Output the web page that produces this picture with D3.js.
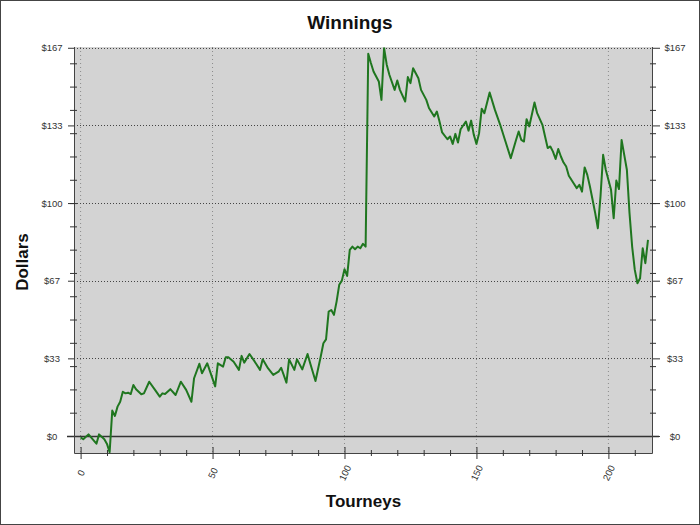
<!DOCTYPE html>
<html>
<head>
<meta charset="utf-8">
<script src="https://cdn.jsdelivr.net/npm/d3@7"></script>
<style>
  body { margin: 0; background: #fff; }
  svg { display: block; }
  .axis text { font-family: "Liberation Sans", Arial, sans-serif; font-size: 9.5px; fill: #333; }
  .axis path { display: none; }
  .axis line { stroke: #333; }
</style>
</head>
<body>
<script>
// set the dimensions and margins of the graph
var margin = {top: 47, right: 47, bottom: 72, left: 74},
    width = 700 - margin.left - margin.right,
    height = 525 - margin.top - margin.bottom;

// tourney number / cumulative winnings
var tourneys = [0, 1, 3, 6, 7, 9, 10, 11, 12, 13, 14, 15, 16, 17, 18, 19, 20, 21, 23, 24,
  26, 28, 30, 31, 32, 34, 36, 38, 40, 42, 43, 45, 46, 48, 51, 52, 54, 55, 56, 58,
  60, 61, 62, 64, 66, 68, 69, 71, 73, 75, 76, 78, 79, 81, 82, 84, 86, 87, 89, 91,
  92, 93, 94, 95, 96, 97, 98, 99, 100, 101, 102, 103, 104, 105, 106, 107, 108, 109, 110, 111,
  113, 114, 115, 116, 117, 119, 120, 121, 123, 124, 125, 126, 128, 129, 131, 132, 134, 135, 136, 137,
  139, 140, 141, 142, 143, 144, 146, 147, 148, 149, 150, 151, 152, 153, 155, 157, 159, 161, 163, 165,
  166, 167, 168, 169, 170, 172, 173, 175, 176, 177, 178, 179, 180, 181, 182, 183, 184, 185, 187, 188,
  189, 190, 191, 192, 193, 194, 195, 196, 197, 198, 199, 201, 202, 203, 204, 205, 206, 207, 208, 209,
  210, 211, 212, 213, 214, 215];
var winnings = [-0.6, -1.4, 0.7, -3.3, 0.7, -1.4, -3.4, -7.0, 10.9, 8.6, 12.6, 14.7, 19.0, 18.3, 18.6, 18.0, 21.9, 20.1, 17.9, 18.3,
  23.3, 20.1, 16.9, 18.3, 18.0, 20.1, 17.6, 23.3, 19.8, 14.7, 24.8, 31.0, 26.9, 31.2, 21.3, 31.2, 29.8, 33.8, 33.8, 31.9,
  28.4, 34.4, 31.5, 35.2, 31.9, 28.4, 32.9, 29.1, 26.2, 27.6, 29.3, 22.9, 32.9, 28.4, 32.9, 28.6, 35.2, 31.2, 23.6, 34.1,
  39.8, 41.5, 53.4, 54.1, 52.0, 57.7, 64.9, 66.7, 71.6, 68.7, 79.9, 81.3, 80.2, 81.3, 80.6, 82.5, 81.3, 164.1, 160.1, 156.5,
  152.2, 144.3, 166.5, 159.4, 155.1, 148.6, 152.6, 148.6, 143.6, 154.1, 151.5, 157.9, 153.6, 148.6, 144.3, 140.8, 137.2, 139.3, 135.0, 130.3,
  127.4, 128.6, 125.4, 129.7, 126.0, 131.7, 135.0, 131.1, 135.4, 129.3, 125.4, 130.0, 140.5, 138.6, 147.5, 140.0, 133.6, 126.4, 119.3, 127.1,
  130.7, 127.1, 126.4, 136.0, 132.9, 143.2, 138.6, 133.6, 128.6, 123.6, 124.3, 122.1, 118.9, 123.2, 120.0, 117.4, 115.7, 111.7, 108.2, 106.4,
  107.8, 104.9, 115.3, 112.1, 107.1, 101.4, 95.7, 89.2, 102.8, 120.7, 114.3, 105.7, 93.5, 109.7, 106.0, 127.1, 120.7, 114.3, 95.7, 81.3,
  71.3, 65.6, 67.7, 80.6, 74.2, 84.2];

// axis ticks
var yMajor = [0, 100 / 3, 200 / 3, 100, 400 / 3, 500 / 3];
var yMinor = d3.range(10, 170, 10);
var xMajor = [0, 50, 100, 150, 200];
var xMinor = d3.range(10, 220, 10).filter(function(d) { return d % 50 !== 0; });

var data = tourneys.map(function(t, i) { return {t: t, v: winnings[i]}; });

var x = d3.scaleLinear().domain([-2.5, 216.9]).range([0, width]);
var y = d3.scaleLinear().domain([-7.3, 167.0]).range([height, 0]);

var root = d3.select("body").append("svg")
    .attr("width", 700)
    .attr("height", 525);

// outer frame
root.append("rect")
    .attr("x", 0.5).attr("y", 0.5)
    .attr("width", 699).attr("height", 524)
    .attr("fill", "#fff")
    .attr("stroke", "#444");

root.append("text")
    .attr("x", 350).attr("y", 29)
    .attr("text-anchor", "middle")
    .style("font", "bold 19px 'Liberation Sans', Arial, sans-serif")
    .style("fill", "#111")
    .text("Winnings");

var svg = root.append("g")
    .attr("transform", "translate(" + margin.left + "," + margin.top + ")");

// panel
svg.append("rect")
    .attr("width", width)
    .attr("height", height)
    .attr("fill", "#d3d3d3");

// grid
svg.append("g").selectAll("line")
    .data(xMajor)
    .enter().append("line")
    .attr("x1", x).attr("x2", x)
    .attr("y1", 0).attr("y2", height)
    .attr("stroke", "#8a8a8a")
    .attr("stroke-dasharray", "1,3");

svg.append("g").selectAll("line")
    .data(yMajor.slice(1))
    .enter().append("line")
    .attr("x1", 0).attr("x2", width)
    .attr("y1", function(d) { return Math.round(y(d)) + 0.5; })
    .attr("y2", function(d) { return Math.round(y(d)) + 0.5; })
    .attr("stroke", "#444")
    .attr("stroke-dasharray", "1,2");

// zero line
svg.append("line")
    .attr("x1", -7).attr("x2", width + 6)
    .attr("y1", Math.round(y(0)) + 0.5).attr("y2", Math.round(y(0)) + 0.5)
    .attr("stroke", "#333")
    .attr("stroke-width", 1.3);

// panel border (left, bottom, right)
svg.append("path")
    .attr("d", "M0.5,0V" + (height + 0.5) + "H" + (width - 0.5) + "V0")
    .attr("fill", "none")
    .attr("stroke", "#444");

// left axis
var yLeft = svg.append("g")
    .attr("class", "axis")
    .call(d3.axisLeft(y).tickValues(yMajor).tickSize(6)
        .tickFormat(function(d) { return "$" + Math.round(d); }));
yLeft.selectAll("text").attr("x", -22).attr("text-anchor", "middle");
svg.append("g")
    .attr("class", "axis")
    .call(d3.axisLeft(y).tickValues(yMinor).tickFormat(""))
    .selectAll("line").attr("x1", 3).attr("x2", -4);

// right axis
var yRight = svg.append("g")
    .attr("class", "axis")
    .attr("transform", "translate(" + width + ",0)")
    .call(d3.axisRight(y).tickValues(yMajor).tickSize(7)
        .tickFormat(function(d) { return "$" + Math.round(d); }));
yRight.selectAll("text").attr("x", 22).attr("text-anchor", "middle");
svg.append("g")
    .attr("class", "axis")
    .attr("transform", "translate(" + width + ",0)")
    .call(d3.axisRight(y).tickValues(yMinor).tickFormat(""))
    .selectAll("line").attr("x1", -3).attr("x2", 3);

// bottom axis
var xBottom = svg.append("g")
    .attr("class", "axis")
    .attr("transform", "translate(0," + height + ")")
    .call(d3.axisBottom(x).tickValues(xMajor).tickSize(6).tickFormat(d3.format("d")));
xBottom.selectAll("line").attr("y1", -6);
xBottom.selectAll("text")
    .attr("y", 0).attr("dy", "0.35em")
    .attr("text-anchor", "middle")
    .attr("transform", "translate(0,20) rotate(-65)");
svg.append("g")
    .attr("class", "axis")
    .attr("transform", "translate(0," + height + ")")
    .call(d3.axisBottom(x).tickValues(xMinor).tickFormat(""))
    .selectAll("line").attr("y1", -3).attr("y2", 3);

// the line
var line = d3.line()
    .x(function(d) { return x(d.t); })
    .y(function(d) { return y(d.v); });

svg.append("path")
    .datum(data)
    .attr("fill", "none")
    .attr("stroke", "#1f761f")
    .attr("stroke-width", 2)
    .attr("stroke-linejoin", "round")
    .attr("d", line);

// axis titles
root.append("text")
    .attr("x", margin.left + width / 2).attr("y", 507)
    .attr("text-anchor", "middle")
    .style("font", "bold 17px 'Liberation Sans', Arial, sans-serif")
    .style("fill", "#111")
    .text("Tourneys");

root.append("text")
    .attr("transform", "translate(28,262) rotate(-90)")
    .attr("text-anchor", "middle")
    .style("font", "bold 17px 'Liberation Sans', Arial, sans-serif")
    .style("fill", "#111")
    .text("Dollars");
</script>
</body>
</html>
